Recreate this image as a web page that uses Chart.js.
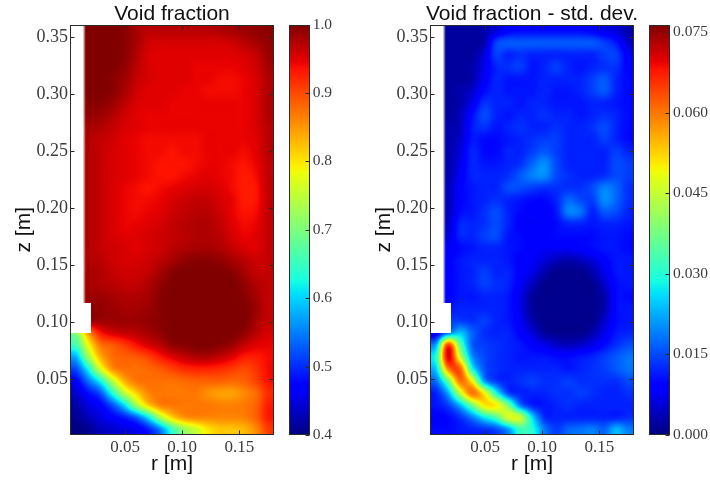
<!DOCTYPE html>
<html>
<head>
<meta charset="utf-8">
<title>Void fraction</title>
<script src="https://cdn.jsdelivr.net/npm/chart.js@4"></script>
<style>
  html, body { margin: 0; background: #fff; }
  #page { position: relative; width: 710px; height: 480px; overflow: hidden; }
  canvas { position: absolute; top: 0; }
</style>
</head>
<body>
<div id="page">
  <canvas id="voidMap" width="344" height="480" style="left:0"></canvas>
  <canvas id="stdMap" width="344" height="480" style="left:360px"></canvas>
  <canvas id="voidBar" width="80" height="480" style="left:280px"></canvas>
  <canvas id="stdBar" width="70" height="480" style="left:640px"></canvas>
</div>
<script>
const rTicks = [0.05, 0.1, 0.15];
const zTicks = [0.05, 0.1, 0.15, 0.2, 0.25, 0.3, 0.35];
const voidBarTicks = [0.4, 0.5, 0.6, 0.7, 0.8, 0.9, 1.0];
const stdBarTicks = [0, 0.015, 0.03, 0.045, 0.06, 0.075];

const rCenters = [0.00702, 0.01754, 0.02807, 0.0386, 0.04912, 0.05965, 0.07018, 0.0807, 0.09123,
  0.10175, 0.11228, 0.12281, 0.13333, 0.14386, 0.15439, 0.16491, 0.17544];
const zCenters = [0.3556, 0.345, 0.3344, 0.3238, 0.3132, 0.3026, 0.292, 0.2814, 0.2708, 0.2602, 0.2497,
  0.2391, 0.2285, 0.2179, 0.2073, 0.1967, 0.1861, 0.1755, 0.1649, 0.1543, 0.1437, 0.1331, 0.1225,
  0.1119, 0.1013, 0.0907, 0.0801, 0.0695, 0.0589, 0.0483, 0.0377, 0.0271, 0.0165, 0.0059];

// the solid wall at the axis has no data, stepped near the bottom
const wallR = [0.014, 0.0202];
const wallZ = [0.1165, 0.0905];

// rows run from the top of the column down
const voidFraction = [
  [null,1,1,1,.995,.98,.97,.97,.97,.97,.97,.97,.975,.98,.985,.99,.995],
  [null,1,1,1,.995,.98,.96,.955,.955,.955,.955,.955,.955,.96,.97,.98,.99],
  [null,1,1,1,.995,.975,.955,.95,.95,.95,.95,.95,.95,.95,.955,.965,.985],
  [null,1,1,1,.99,.97,.955,.95,.95,.95,.945,.945,.945,.945,.95,.96,.98],
  [null,1,1,.995,.985,.965,.955,.95,.95,.95,.945,.945,.94,.94,.945,.955,.975],
  [null,1,1,.995,.98,.96,.95,.95,.95,.945,.945,.94,.94,.94,.945,.955,.975],
  [null,.995,.995,.985,.97,.955,.95,.95,.945,.945,.945,.945,.945,.945,.945,.955,.975],
  [null,.99,.985,.975,.96,.95,.945,.945,.945,.945,.945,.945,.945,.945,.945,.955,.975],
  [null,.98,.975,.965,.955,.95,.945,.945,.945,.945,.945,.945,.945,.945,.945,.955,.97],
  [null,.975,.965,.96,.95,.945,.94,.94,.94,.94,.94,.945,.945,.945,.945,.95,.97],
  [null,.975,.965,.955,.95,.945,.94,.94,.935,.94,.94,.945,.945,.945,.94,.95,.97],
  [null,.975,.965,.955,.95,.945,.94,.935,.935,.935,.94,.945,.945,.94,.935,.945,.965],
  [null,.975,.965,.955,.95,.945,.94,.935,.935,.94,.945,.95,.945,.94,.93,.94,.965],
  [null,.975,.965,.955,.945,.94,.935,.94,.945,.95,.955,.955,.95,.94,.93,.935,.965],
  [null,.975,.965,.955,.945,.94,.94,.945,.955,.96,.965,.965,.955,.945,.93,.935,.965],
  [null,.975,.965,.955,.945,.94,.945,.95,.96,.965,.97,.97,.96,.945,.935,.94,.965],
  [null,.975,.965,.955,.945,.945,.95,.955,.965,.97,.975,.975,.965,.95,.94,.945,.965],
  [null,.975,.965,.955,.95,.95,.955,.96,.965,.97,.975,.975,.97,.955,.945,.95,.965],
  [null,.975,.965,.96,.955,.95,.955,.96,.97,.975,.98,.98,.975,.965,.955,.95,.965],
  [null,.975,.97,.96,.955,.955,.96,.97,.98,.99,.995,.995,.99,.98,.97,.96,.965],
  [null,.98,.975,.965,.96,.96,.965,.98,.995,1,1,1,1,.995,.98,.965,.965],
  [null,.98,.975,.97,.965,.965,.975,.99,1,1,1,1,1,1,.99,.975,.965],
  [null,.985,.985,.98,.975,.975,.98,.995,1,1,1,1,1,1,.995,.98,.965],
  [null,.99,.99,.985,.98,.98,.985,.995,1,1,1,1,1,1,1,.985,.965],
  [null,null,.985,.985,.985,.985,.99,.995,1,1,1,1,1,1,1,.98,.965],
  [.72,.85,.93,.955,.965,.97,.98,.99,1,1,1,1,1,1,.99,.97,.955],
  [.66,.78,.87,.89,.91,.935,.955,.97,.99,.995,1,1,.995,.985,.965,.95,.945],
  [.58,.72,.83,.875,.885,.89,.905,.93,.95,.965,.975,.975,.965,.95,.93,.93,.94],
  [.52,.62,.76,.85,.875,.875,.88,.89,.905,.92,.925,.925,.92,.91,.9,.915,.94],
  [.47,.54,.62,.74,.83,.87,.875,.875,.875,.88,.885,.885,.885,.88,.885,.905,.935],
  [.44,.48,.52,.63,.74,.81,.86,.87,.87,.87,.87,.855,.845,.845,.86,.88,.92],
  [.42,.45,.47,.52,.6,.72,.81,.86,.87,.87,.87,.87,.865,.865,.87,.885,.93],
  [.41,.43,.45,.47,.49,.53,.61,.73,.81,.85,.86,.86,.86,.86,.865,.885,.93],
  [.4,.41,.43,.44,.45,.46,.49,.55,.65,.72,.76,.8,.82,.82,.83,.86,.91],
];

const voidStdDev = [
  [null,.002,.002,.002,.003,.006,.009,.01,.01,.01,.01,.01,.01,.009,.007,.006,.003],
  [null,.002,.002,.002,.003,.014,.016,.016,.016,.016,.016,.016,.016,.016,.014,.011,.005],
  [null,.002,.002,.002,.006,.014,.012,.013,.012,.012,.012,.012,.012,.012,.014,.014,.008],
  [null,.002,.002,.003,.007,.012,.013,.014,.011,.012,.014,.012,.011,.012,.013,.013,.009],
  [null,.002,.002,.003,.008,.012,.011,.011,.011,.012,.012,.012,.012,.014,.016,.012,.01],
  [null,.002,.003,.005,.01,.012,.011,.011,.011,.012,.011,.011,.012,.014,.016,.012,.01],
  [null,.002,.003,.007,.013,.012,.012,.011,.012,.012,.011,.011,.011,.012,.012,.011,.01],
  [null,.002,.004,.01,.015,.012,.011,.012,.012,.013,.012,.012,.011,.012,.013,.012,.01],
  [null,.003,.004,.011,.013,.011,.012,.013,.012,.012,.013,.012,.012,.013,.015,.012,.01],
  [null,.003,.005,.011,.01,.01,.011,.012,.013,.014,.014,.012,.012,.012,.014,.012,.01],
  [null,.003,.006,.012,.01,.01,.012,.012,.014,.016,.014,.012,.012,.012,.012,.014,.012],
  [null,.003,.007,.012,.011,.011,.012,.013,.017,.02,.015,.012,.012,.012,.012,.015,.014],
  [null,.003,.008,.012,.012,.012,.013,.016,.019,.02,.015,.013,.012,.012,.013,.015,.014],
  [null,.004,.009,.011,.012,.012,.015,.015,.014,.013,.013,.013,.013,.015,.019,.017,.013],
  [null,.004,.009,.011,.012,.013,.012,.011,.01,.01,.012,.017,.015,.014,.02,.017,.013],
  [null,.004,.01,.011,.013,.015,.012,.01,.009,.009,.011,.019,.018,.012,.016,.015,.012],
  [null,.005,.012,.012,.013,.015,.012,.009,.008,.009,.01,.012,.012,.011,.012,.012,.011],
  [null,.006,.012,.012,.014,.015,.011,.01,.009,.009,.01,.01,.01,.01,.011,.011,.01],
  [null,.008,.01,.011,.012,.012,.011,.01,.009,.008,.008,.008,.009,.01,.011,.011,.01],
  [null,.009,.011,.012,.012,.012,.011,.009,.008,.006,.004,.003,.004,.006,.009,.011,.011],
  [null,.009,.011,.012,.014,.012,.012,.009,.007,.003,.001,.001,.001,.003,.007,.011,.011],
  [null,.009,.011,.012,.014,.013,.012,.008,.004,.001,.001,.001,.001,.001,.005,.01,.011],
  [null,.009,.011,.011,.012,.012,.011,.007,.002,.001,.001,.001,.001,.001,.003,.01,.01],
  [null,.011,.012,.012,.012,.012,.011,.007,.002,.001,.001,.001,.001,.001,.003,.01,.011],
  [null,null,.014,.013,.014,.012,.011,.008,.003,.001,.001,.001,.001,.001,.005,.01,.011],
  [.008,.018,.024,.017,.013,.012,.012,.009,.006,.002,.001,.001,.001,.003,.007,.011,.012],
  [.022,.064,.036,.017,.014,.013,.012,.011,.009,.007,.005,.004,.005,.007,.01,.013,.015],
  [.03,.07,.046,.021,.015,.013,.012,.011,.011,.011,.01,.01,.011,.012,.014,.016,.018],
  [.025,.058,.062,.03,.016,.013,.012,.012,.012,.012,.012,.011,.012,.013,.014,.016,.018],
  [.018,.036,.06,.05,.022,.014,.012,.013,.014,.013,.013,.014,.013,.013,.013,.013,.015],
  [.012,.022,.044,.06,.05,.03,.015,.012,.012,.012,.013,.013,.014,.013,.012,.012,.013],
  [.011,.014,.023,.037,.05,.05,.038,.019,.012,.011,.012,.013,.012,.012,.012,.012,.012],
  [.009,.01,.013,.019,.027,.034,.046,.045,.026,.013,.012,.012,.012,.012,.012,.012,.013],
  [.01,.01,.011,.012,.013,.015,.021,.032,.03,.019,.014,.017,.018,.019,.017,.023,.019],
];

const serif = "'Liberation Serif', serif";
const sans = "'Liberation Sans', Arial, sans-serif";
const frameColor = "#2a2a2a";
const labelColor = "#3c3c3c";

// matplotlib's jet segments as [position, level]
const jetRed = [[0, 0], [0.35, 0], [0.66, 1], [0.89, 1], [1, 0.5]];
const jetGreen = [[0, 0], [0.125, 0], [0.375, 1], [0.64, 1], [0.91, 0], [1, 0]];
const jetBlue = [[0, 0.5], [0.11, 1], [0.34, 1], [0.65, 0], [1, 0]];

function level(stops, v) {
  for (let k = 1; k < stops.length; k++) {
    if (v <= stops[k][0]) {
      const [x0, y0] = stops[k - 1];
      const [x1, y1] = stops[k];
      return y0 + ((v - x0) / (x1 - x0)) * (y1 - y0);
    }
  }
  return stops[stops.length - 1][1];
}

function jet(value) {
  const v = Math.max(0, Math.min(1, value));
  return [level(jetRed, v) * 255, level(jetGreen, v) * 255, level(jetBlue, v) * 255];
}

function cubic(a, b, c, d, t) {
  return b + 0.5 * t * (c - a + t * (2 * a - 5 * b + 4 * c - d + t * (3 * (b - c) + d - a)));
}

// cells under the wall have no value, borrow the first one to their right
function cell(rows, j, i) {
  const row = rows[Math.max(0, Math.min(rows.length - 1, j))];
  let k = Math.max(0, Math.min(row.length - 1, i));
  while (row[k] === null) k++;
  return row[k];
}

function sample(rows, r, z) {
  const fi = (r - rCenters[0]) / (rCenters[1] - rCenters[0]);
  const fj = (z - zCenters[0]) / (zCenters[1] - zCenters[0]);
  const i = Math.floor(fi);
  const j = Math.floor(fj);
  const across = [-1, 0, 1, 2].map((dj) =>
    cubic(
      cell(rows, j + dj, i - 1),
      cell(rows, j + dj, i),
      cell(rows, j + dj, i + 1),
      cell(rows, j + dj, i + 2),
      fi - i
    )
  );
  return cubic(across[0], across[1], across[2], across[3], fj - j);
}

// 0 inside the wall, 1 in the flow; the tall part of the wall has a soft edge
function wallAlpha(r, z) {
  if (z <= wallZ[1]) return 1;
  if (z < wallZ[0]) return r < wallR[1] ? 0 : 1;
  return Math.max(0, Math.min(1, (r - wallR[0] + 0.001) / 0.0026));
}

function heatPlugin(rows, lo, hi) {
  return {
    id: "heat",
    beforeDatasetsDraw(chart) {
      const { ctx, chartArea: area, scales } = chart;
      const left = Math.round(area.left);
      const top = Math.round(area.top);
      const width = Math.round(area.right) - left;
      const height = Math.round(area.bottom) - top;
      const image = ctx.createImageData(width, height);
      for (let py = 0; py < height; py++) {
        const z = scales.y.getValueForPixel(top + py + 0.5);
        for (let px = 0; px < width; px++) {
          const r = scales.x.getValueForPixel(left + px + 0.5);
          const alpha = wallAlpha(r, z);
          if (alpha === 0) continue;
          const [cr, cg, cb] = jet((sample(rows, r, z) - lo) / (hi - lo));
          const at = (py * width + px) * 4;
          image.data[at] = cr;
          image.data[at + 1] = cg;
          image.data[at + 2] = cb;
          image.data[at + 3] = alpha * 255;
        }
      }
      ctx.putImageData(image, left, top);
    },
  };
}

function barPlugin(lo, hi) {
  return {
    id: "bar",
    beforeDatasetsDraw(chart) {
      const { ctx, chartArea: area, scales } = chart;
      for (let py = Math.round(area.top); py < Math.round(area.bottom); py++) {
        const value = scales.y.getValueForPixel(py + 0.5);
        const [cr, cg, cb] = jet((value - lo) / (hi - lo));
        ctx.fillStyle = `rgb(${cr},${cg},${cb})`;
        ctx.fillRect(area.left, py, area.right - area.left, 1);
      }
    },
  };
}

// matplotlib style frame with ticks pointing inward
function framePlugin(sides) {
  return {
    id: "frame",
    afterDatasetsDraw(chart) {
      const { ctx, chartArea: area, scales } = chart;
      const left = Math.round(area.left) + 0.5;
      const right = Math.round(area.right) - 0.5;
      const top = Math.round(area.top) + 0.5;
      const bottom = Math.round(area.bottom) - 0.5;
      ctx.save();
      ctx.strokeStyle = frameColor;
      ctx.lineWidth = 1;
      ctx.strokeRect(left, top, right - left, bottom - top);
      ctx.beginPath();
      for (const tick of scales.y.ticks) {
        const y = Math.round(scales.y.getPixelForValue(tick.value)) + 0.5;
        if (sides.includes("left")) {
          ctx.moveTo(left, y);
          ctx.lineTo(left + 4, y);
        }
        ctx.moveTo(right, y);
        ctx.lineTo(right - 4, y);
      }
      if (sides.includes("top")) {
        for (const tick of scales.x.ticks) {
          const x = Math.round(scales.x.getPixelForValue(tick.value)) + 0.5;
          ctx.moveTo(x, bottom);
          ctx.lineTo(x, bottom - 4);
          ctx.moveTo(x, top);
          ctx.lineTo(x, top + 4);
        }
      }
      ctx.stroke();
      ctx.restore();
    },
  };
}

function createMap(selector, title, rows, lo, hi) {
  return new Chart(document.querySelector(selector), {
    type: "scatter",
    data: { datasets: [{ data: [] }] },
    plugins: [heatPlugin(rows, lo, hi), framePlugin(["left", "top"])],
    options: {
      responsive: false,
      animation: false,
      layout: { padding: { top: 0.5 } },
      plugins: {
        legend: { display: false },
        tooltip: { enabled: false },
        title: {
          display: true,
          text: title,
          color: "#111",
          padding: { top: 3, bottom: 0 },
          font: { family: sans, size: 21, weight: "normal", lineHeight: 1 },
        },
      },
      scales: {
        x: {
          type: "linear",
          min: 0.0018,
          max: 0.1803,
          afterBuildTicks: (scale) => {
            scale.ticks = rTicks.map((value) => ({ value }));
          },
          afterFit: (scale) => {
            scale.height = 45;
          },
          grid: { display: false, drawTicks: false },
          border: { display: false },
          ticks: {
            autoSkip: false,
            maxRotation: 0,
            padding: 2,
            color: labelColor,
            font: { family: serif, size: 17 },
            callback: (value) => value.toFixed(2),
          },
          title: {
            display: true,
            text: "r [m]",
            color: "#111",
            padding: { top: 0, bottom: 3 },
            font: { family: sans, size: 21 },
          },
        },
        y: {
          type: "linear",
          min: 0.001,
          max: 0.3609,
          afterBuildTicks: (scale) => {
            scale.ticks = zTicks.map((value) => ({ value }));
          },
          afterFit: (scale) => {
            scale.width = 70;
          },
          grid: { display: false, drawTicks: false },
          border: { display: false },
          ticks: {
            autoSkip: false,
            padding: 2,
            color: labelColor,
            font: { family: serif, size: 18 },
            callback: (value) => value.toFixed(2),
          },
          title: {
            display: true,
            text: "z [m]",
            color: "#111",
            padding: { top: 12, bottom: 0 },
            font: { family: sans, size: 21 },
          },
        },
        // empty axis that keeps the map clear of the colour bar
        gap: {
          type: "linear",
          position: "right",
          afterFit: (scale) => {
            scale.width = 70;
          },
          grid: { display: false, drawTicks: false },
          border: { display: false },
          ticks: { display: false },
        },
      },
    },
  });
}

function createBar(selector, ticks, lo, hi, digits, barWidth, leftGap) {
  return new Chart(document.querySelector(selector), {
    type: "scatter",
    data: { datasets: [{ data: [] }] },
    plugins: [barPlugin(lo, hi), framePlugin([])],
    options: {
      responsive: false,
      animation: false,
      layout: { padding: { top: 24.5, bottom: 45, left: leftGap } },
      plugins: { legend: { display: false }, tooltip: { enabled: false } },
      scales: {
        x: { display: false },
        y: {
          type: "linear",
          position: "right",
          min: lo,
          max: hi,
          afterBuildTicks: (scale) => {
            scale.ticks = ticks.map((value) => ({ value }));
          },
          afterFit: (scale) => {
            scale.width = scale.chart.width - leftGap - barWidth;
          },
          grid: { display: false, drawTicks: false },
          border: { display: false },
          ticks: {
            autoSkip: false,
            padding: 3,
            color: labelColor,
            font: { family: serif, size: 15.5 },
            callback: (value) => value.toFixed(digits),
          },
        },
      },
    },
  });
}

createMap("#voidMap", "Void fraction", voidFraction, 0.4, 1.0);
createMap("#stdMap", "Void fraction - std. dev.", voidStdDev, 0, 0.0764);
createBar("#voidBar", voidBarTicks, 0.4, 1.0, 1, 20.7, 9);
createBar("#stdBar", stdBarTicks, 0, 0.0764, 3, 20.7, 9.3);
</script>
</body>
</html>
